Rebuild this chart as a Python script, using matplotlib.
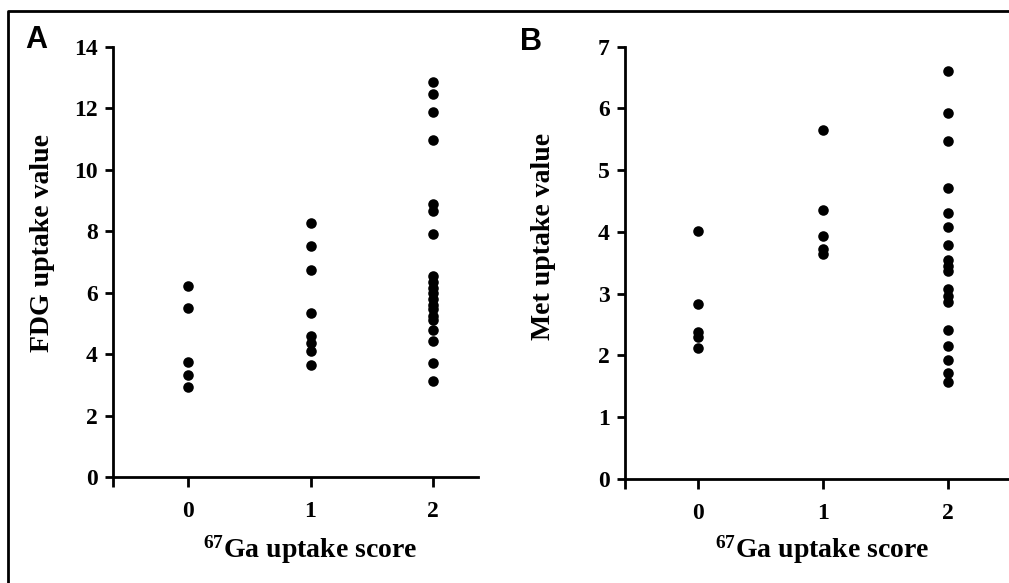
import matplotlib
matplotlib.use("Agg")
import matplotlib.pyplot as plt
from matplotlib.lines import Line2D

# ---- data ----
ga_scores = [0, 1, 2]
fdg_score0 = [6.2, 5.5, 3.75, 3.32, 2.92]
fdg_score1 = [8.27, 7.52, 6.75, 5.34, 4.6, 4.35, 4.1, 3.66]
fdg_score2 = [12.86, 12.45, 11.86, 10.98, 8.88, 8.65, 7.89,
              6.55, 6.35, 6.15, 6.0, 5.8, 5.6, 5.45, 5.25, 5.1,
              4.78, 4.44, 3.7, 3.12]
met_score0 = [4.02, 2.84, 2.38, 2.3, 2.12]
met_score1 = [5.65, 4.35, 3.93, 3.72, 3.65]
met_score2 = [6.61, 5.93, 5.47, 4.71, 4.30, 4.08, 3.79, 3.55, 3.45, 3.36,
              3.08, 2.97, 2.86, 2.41, 2.15, 1.92, 1.71, 1.57]
fdg_yticks = [0, 2, 4, 6, 8, 10, 12, 14]
met_yticks = [0, 1, 2, 3, 4, 5, 6, 7]

W, H = 1009, 583
SERIF = "Liberation Serif"
plt.rcParams["mathtext.default"] = "regular"


def px_axes(fig, left, right, top, bottom):
    return fig.add_axes([left / W, 1 - bottom / H, (right - left) / W, (bottom - top) / H])


def style_axes(ax, xlim, ylim, yticks):
    ax.set_xlim(*xlim)
    ax.set_ylim(*ylim)
    for s in ("top", "right"):
        ax.spines[s].set_visible(False)
    for s in ("left", "bottom"):
        ax.spines[s].set_linewidth(2.0)
        ax.spines[s].set_color("black")
    ax.set_yticks(yticks)
    ax.set_yticklabels([str(t) for t in yticks])
    ax.set_xticks([xlim[0]] + ga_scores)
    ax.set_xticklabels([""] + [str(s) for s in ga_scores])
    ax.tick_params(axis="y", direction="out", length=6, width=2.0, pad=5)
    ax.tick_params(axis="x", direction="out", length=7, width=2.0, pad=10)
    for lab in ax.get_xticklabels() + ax.get_yticklabels():
        lab.set_fontfamily(SERIF)
        lab.set_fontweight("bold")
        lab.set_fontsize(17)
    ax.patch.set_visible(False)


def draw_dots(ax, groups):
    for score, vals in zip(ga_scores, groups):
        ax.plot([score] * len(vals), vals, "o", color="black", markersize=7.6,
                markeredgewidth=0, clip_on=False)


fig = plt.figure(figsize=(W / 100, H / 100), dpi=100)

# panel A
axA = px_axes(fig, 113, 478, 46.7, 477)
style_axes(axA, (-0.612, 2.367), (0, 14), fdg_yticks)
draw_dots(axA, [fdg_score0, fdg_score1, fdg_score2])

# panel B
axB = px_axes(fig, 625, 1015, 46.7, 479)
style_axes(axB, (-0.584, 2.536), (0, 7), met_yticks)
draw_dots(axB, [met_score0, met_score1, met_score2])

# axis titles
txt = dict(fontfamily=SERIF, fontweight="bold", fontsize=20, ha="center", va="center")
fig.text(43 / W, 1 - 243 / H, "FDG uptake value", rotation=90, **txt)
fig.text(543 / W, 1 - 236 / H, "Met uptake value", rotation=90, **txt)
fig.text(310 / W, 1 - 550 / H, "$^{67}$Ga uptake score", **txt)
fig.text(822 / W, 1 - 550 / H, "$^{67}$Ga uptake score", **txt)

# panel letters
lbl = dict(fontfamily="Liberation Sans", fontweight="bold", fontsize=22, ha="center", va="center")
fig.text(36 / W, 1 - 40 / H, "A", **lbl)
fig.text(531 / W, 1 - 42 / H, "B", **lbl)

# outer frame (left and top edges visible)
fig.add_artist(Line2D([8 / W, 8 / W, 1.0], [0.0, 1 - 11 / H, 1 - 11 / H],
                      transform=fig.transFigure, color="black", linewidth=2.0))

fig.savefig("out.png", dpi=100)
